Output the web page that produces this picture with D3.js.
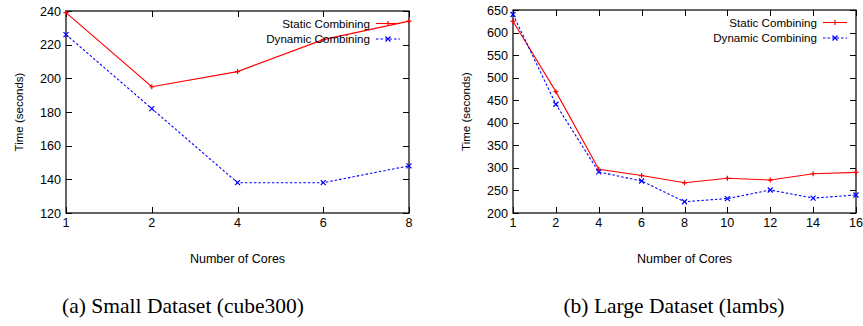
<!DOCTYPE html>
<html>
<head>
<meta charset="utf-8">
<script src="https://cdn.jsdelivr.net/npm/d3@7"></script>
<style>
  body { margin: 0; background: #fff; }
  text { font-family: "Liberation Sans", Arial, sans-serif; }
</style>
</head>
<body>
<svg id="chart" width="863" height="326"></svg>
<script>
// data
const coresSmall = [1, 2, 4, 6, 8];
const staticSmall = [239, 195, 204, 223, 234];
const dynamicSmall = [226, 182, 138, 138, 148];
const yTicksSmall = [120, 140, 160, 180, 200, 220, 240];

const coresLarge = [1, 2, 4, 6, 8, 10, 12, 14, 16];
const staticLarge = [625, 469, 297, 283, 267, 277, 273, 287, 290];
const dynamicLarge = [640, 441, 291, 271, 225, 232, 251, 233, 240];
const yTicksLarge = [200, 250, 300, 350, 400, 450, 500, 550, 600, 650];

const seriesNames = ["Static Combining", "Dynamic Combining"];
const captions = ["(a) Small Dataset (cube300)", "(b) Large Dataset (lambs)"];

const svg = d3.select("#chart");

function marker(sel, type, cx, cy, color) {
    const s = 2.5;
    let d;
    if (type === "plus") {
        d = `M${cx - s},${cy}H${cx + s}M${cx},${cy - s}V${cy + s}`;
    } else {
        d = `M${cx - s},${cy - s}L${cx + s},${cy + s}M${cx - s},${cy + s}L${cx + s},${cy - s}`;
    }
    sel.append("path").attr("d", d)
    .style("stroke", color).style("stroke-width", 1.2).style("fill", "none");
}

function drawPanel(opt) {
    const g = svg.append("g");
    const x = d3.scalePoint().domain(opt.cores).range([opt.x0, opt.x1]);
    const y = d3.scaleLinear().domain(opt.yDomain).range([opt.y1, opt.y0]);
    const tick = 6;

    // frame
    g.append("rect")
    .attr("x", opt.x0).attr("y", opt.y0)
    .attr("width", opt.x1 - opt.x0).attr("height", opt.y1 - opt.y0)
    .style("fill", "none").style("stroke", "#000").style("stroke-width", 1.2);

    // y ticks, inward and mirrored like gnuplot
    opt.yTicks.forEach(v => {
        const yy = Math.round(y(v)) + 0.5;
        g.append("line").attr("x1", opt.x0).attr("x2", opt.x0 + tick)
        .attr("y1", yy).attr("y2", yy).style("stroke", "#000");
        g.append("line").attr("x1", opt.x1).attr("x2", opt.x1 - tick)
        .attr("y1", yy).attr("y2", yy).style("stroke", "#000");
        g.append("text").text(v)
        .attr("x", opt.x0 - 5).attr("y", y(v) + 4.5)
        .attr("text-anchor", "end")
        .style("font-size", "12.6px");
    });

    // x ticks
    opt.cores.forEach(c => {
        const xx = Math.round(x(c)) + 0.5;
        g.append("line").attr("x1", xx).attr("x2", xx)
        .attr("y1", opt.y1).attr("y2", opt.y1 - tick).style("stroke", "#000");
        g.append("line").attr("x1", xx).attr("x2", xx)
        .attr("y1", opt.y0).attr("y2", opt.y0 + tick).style("stroke", "#000");
        g.append("text").text(c)
        .attr("x", x(c)).attr("y", opt.y1 + 14)
        .attr("text-anchor", "middle")
        .style("font-size", "12.6px");
    });

    // axis labels
    g.append("text").text("Time (seconds)")
    .attr("transform", "translate(" + (opt.x0 - 43) + "," + ((opt.y0 + opt.y1) / 2) + ") rotate(-90)")
    .attr("text-anchor", "middle")
    .style("font-size", "11.5px");

    g.append("text").text("Number of Cores")
    .attr("x", (opt.x0 + opt.x1) / 2).attr("y", opt.y1 + 50)
    .attr("text-anchor", "middle")
    .style("font-size", "12.5px");

    g.append("text").text(opt.caption)
    .attr("x", opt.capX).attr("y", 313)
    .attr("text-anchor", "middle")
    .style("font-family", "'Liberation Serif', 'Times New Roman', serif")
    .style("font-size", "21.5px");

    const line = d3.line().x(d => x(d[0])).y(d => y(d[1]));
    const series = [
        {values: opt.staticVals, color: "#ff0000", dash: null, marker: "plus"},
        {values: opt.dynamicVals, color: "#0000ff", dash: "2.5,2", marker: "cross"},
    ];

    series.forEach((s, i) => {
        const pts = opt.cores.map((c, j) => [c, s.values[j]]);
        g.append("path").datum(pts)
        .attr("d", line)
        .style("fill", "none")
        .style("stroke", s.color)
        .style("stroke-width", 1.1)
        .style("stroke-dasharray", s.dash);
        pts.forEach(p => marker(g, s.marker, x(p[0]), y(p[1]), s.color));

        // legend
        const ly = opt.y0 + 12.5 + i * 15.5;
        g.append("text").text(seriesNames[i])
        .attr("x", opt.legX).attr("y", ly + 4)
        .attr("text-anchor", "end")
        .style("font-size", "11.6px");
        g.append("line")
        .attr("x1", opt.legX + 6).attr("x2", opt.legX + 30)
        .attr("y1", ly).attr("y2", ly)
        .style("stroke", s.color).style("stroke-width", 1.1)
        .style("stroke-dasharray", s.dash);
        marker(g, s.marker, opt.legX + 18, ly, s.color);
    });
}

drawPanel({
    cores: coresSmall, staticVals: staticSmall, dynamicVals: dynamicSmall,
    yDomain: [120, 240], yTicks: yTicksSmall,
    x0: 66, x1: 409, y0: 11, y1: 213, legX: 370,
    caption: captions[0], capX: 183
});

drawPanel({
    cores: coresLarge, staticVals: staticLarge, dynamicVals: dynamicLarge,
    yDomain: [200, 650], yTicks: yTicksLarge,
    x0: 513, x1: 856, y0: 10, y1: 213, legX: 817,
    caption: captions[1], capX: 674
});
</script>
</body>
</html>
